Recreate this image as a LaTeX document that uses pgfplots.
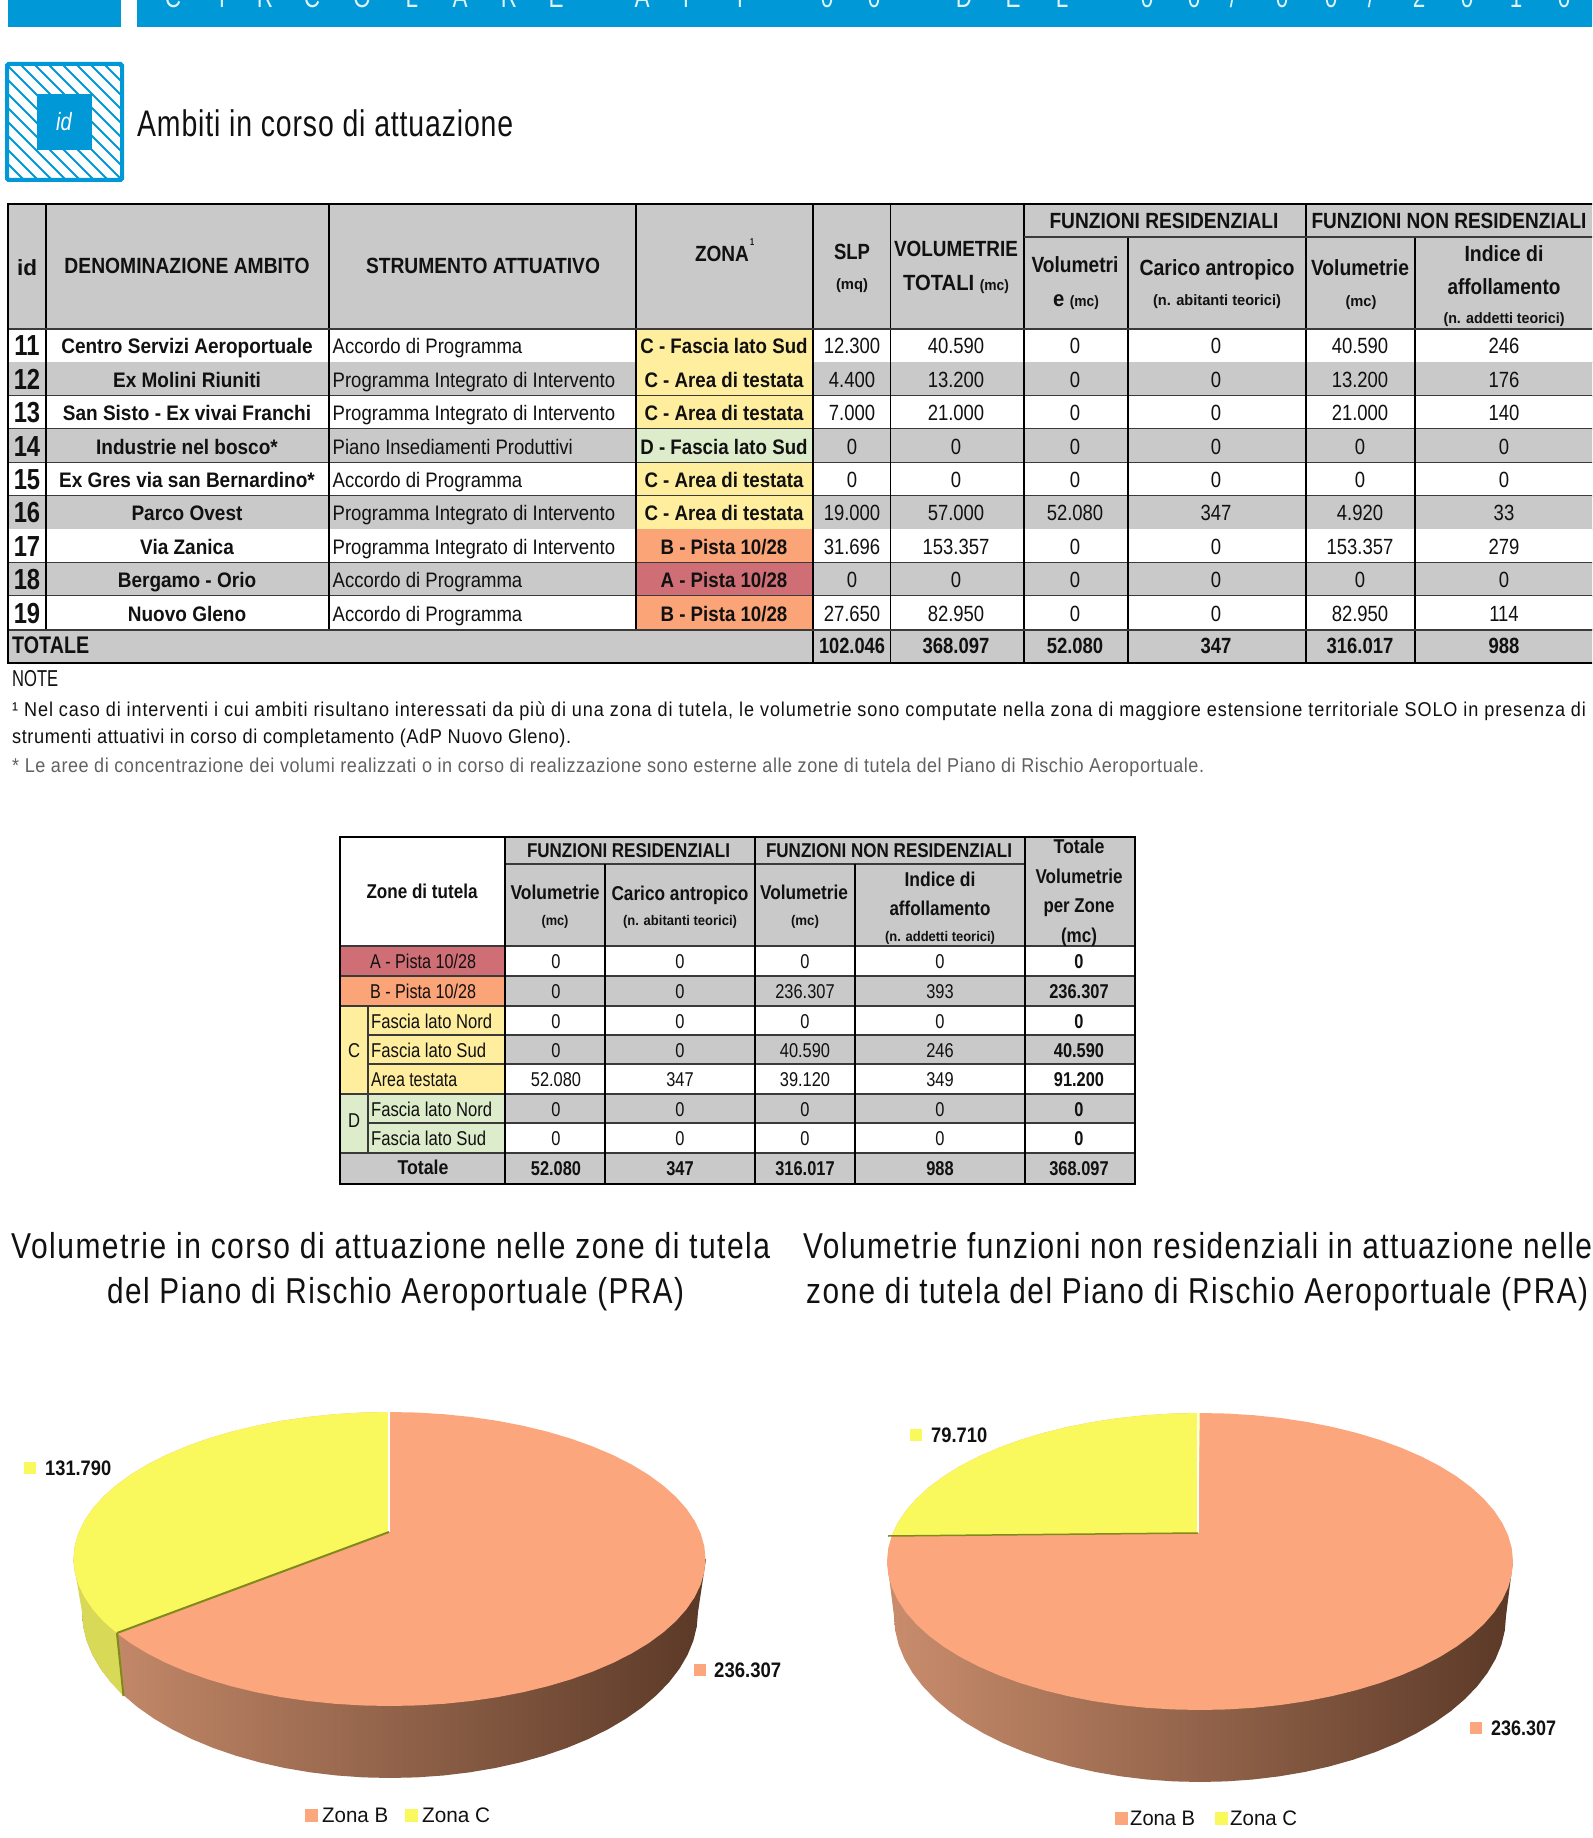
\documentclass[border=0pt]{standalone}
\usepackage{pgfplots}
\pgfplotsset{compat=1.18}
\usepackage{pgfplotstable}
\usepackage{graphicx}
\usepackage{fontspec}
\setmainfont{Liberation Sans}
\definecolor{blu}{HTML}{0098D6}
\definecolor{hg}{HTML}{C9C9C9}
\definecolor{zoneA}{HTML}{CF6F75}
\definecolor{zoneB}{HTML}{FAA478}
\definecolor{zoneC}{HTML}{FFEE9E}
\definecolor{zoneD}{HTML}{DDECCB}
\definecolor{pieO}{HTML}{FBA67C}
\definecolor{pieY}{HTML}{F9F95E}
\definecolor{rimY}{HTML}{D9D958}
\definecolor{seam}{HTML}{7F8A1A}
\definecolor{rimL}{HTML}{C88C6C}
\definecolor{rimM}{HTML}{84573F}
\definecolor{rimR}{HTML}{5C3A28}
\definecolor{ink}{HTML}{111111}
\definecolor{rule}{HTML}{3A3A3A}
% anchor, x, y, size, width, text: set to an exact width, keeping the height
\newcommand{\fit}[6]{\node[anchor=#1,inner sep=0pt] at (#2,#3) {\resizebox{#5pt}{\height}{\fontsize{#4}{#4}\selectfont\color{ink}#6}};}
% anchor, x, y, size, xscale, text
\newcommand{\tx}[6]{\node[anchor=#1,inner sep=0pt] at (#2,#3) {\scalebox{#5}[1]{\fontsize{#4}{#4}\selectfont\color{ink}#6}};}
\newcommand{\spaced}[1]{\addfontfeature{LetterSpace=#1}}
% unit circle outline
\pgfplotstableread{
u v
1 0
.9962 .0872
.9848 .1736
.9659 .2588
.9397 .3420
.9063 .4226
.8660 .5
.8192 .5736
.7660 .6428
.7071 .7071
.6428 .7660
.5736 .8192
.5 .8660
.4226 .9063
.3420 .9397
.2588 .9659
.1736 .9848
.0872 .9962
0 1
-.0872 .9962
-.1736 .9848
-.2588 .9659
-.3420 .9397
-.4226 .9063
-.5 .8660
-.5736 .8192
-.6428 .7660
-.7071 .7071
-.7660 .6428
-.8192 .5736
-.8660 .5
-.9063 .4226
-.9397 .3420
-.9659 .2588
-.9848 .1736
-.9962 .0872
-1 0
-.9962 -.0872
-.9848 -.1736
-.9659 -.2588
-.9397 -.3420
-.9063 -.4226
-.8660 -.5
-.8192 -.5736
-.7660 -.6428
-.7071 -.7071
-.6428 -.7660
-.5736 -.8192
-.5 -.8660
-.4226 -.9063
-.3420 -.9397
-.2588 -.9659
-.1736 -.9848
-.0872 -.9962
0 -1
.0872 -.9962
.1736 -.9848
.2588 -.9659
.3420 -.9397
.4226 -.9063
.5 -.8660
.5736 -.8192
.6428 -.7660
.7071 -.7071
.7660 -.6428
.8192 -.5736
.8660 -.5
.9063 -.4226
.9397 -.3420
.9659 -.2588
.9848 -.1736
.9962 -.0872
1 0
}\unitcircle
% Zona C slice, left pie (131.790 of 368.097)
\pgfplotstableread{
u v
-.003 .184
0 1
-.0872 .9962
-.1736 .9848
-.2588 .9659
-.3420 .9397
-.4226 .9063
-.5 .8660
-.5736 .8192
-.6428 .7660
-.7071 .7071
-.7660 .6428
-.8192 .5736
-.8660 .5
-.9063 .4226
-.9397 .3420
-.9659 .2588
-.9848 .1736
-.9962 .0872
-1 0
-.9962 -.0872
-.9848 -.1736
-.9659 -.2588
-.9397 -.3420
-.9063 -.4226
-.8620 -.5069
}\sliceleft
% Zona C slice, right pie (79.710 of 316.017)
\pgfplotstableread{
u v
-.006 .192
0 1
-.0872 .9962
-.1736 .9848
-.2588 .9659
-.3420 .9397
-.4226 .9063
-.5 .8660
-.5736 .8192
-.6428 .7660
-.7071 .7071
-.7660 .6428
-.8192 .5736
-.8660 .5
-.9063 .4226
-.9397 .3420
-.9659 .2588
-.9848 .1736
}\sliceright
\begin{document}
\begin{tikzpicture}
\path[use as bounding box,clip] (0pt,0pt) rectangle (1592pt,1838pt);
\fill[white] (0pt,0pt) rectangle (1592pt,1838pt);
\begin{scope}[x=1pt,y=-1pt,shift={(0pt,1838pt)}]
% ---------- top band
\fill[blu] (8,-2) rectangle (121,27);
\fill[blu] (137,-2) rectangle (1594,27);
\foreach \px/\ch in {173/C,222/I,265/R,312/C,362/O,412/L,460/A,509/R,556/E,642/A,686/T,740/I,827/0,874/0,964/D,1013/E,1062/L,1147/0,1194/0,1233/{/},1282/0,1331/0,1371/{/},1419/2,1467/0,1516/1,1564/0}{
  \node[anchor=base,inner sep=0pt,text=white!88!blu] at (\px,7.5) {\scalebox{.75}[1]{\fontsize{30}{30}\selectfont\ch}};
}
% ---------- icon
\begin{scope}
\clip (7,64) rectangle (122,180);
\foreach \k in {-14,...,14}{
  \draw[blu,line width=2pt] ({64+14*\k-70},52) -- ({64+14*\k+70},192);
}
\end{scope}
\draw[blu,line width=4pt,rounded corners=1.5pt] (7,64) rectangle (122,180);
\fill[blu] (37,94) rectangle (92,150);
\node[anchor=center,inner sep=0pt,text=white] at (64,122) {\scalebox{.8}[1]{\fontsize{25}{25}\selectfont\itshape id}};
\fit{base west}{137}{137}{37}{376}{\spaced{3}Ambiti in corso di attuazione}
% ---------- table 1
\fill[hg] (8,203) rectangle (1594,329);
\foreach \i/\rbg/\rid/\rname/\rst/\zc/\zn/\vA/\vB/\vC/\vD/\vE/\vF in {
0/white/11/Centro Servizi Aeroportuale/Accordo di Programma/zoneC/C - Fascia lato Sud/12.300/40.590/0/0/40.590/246,
1/hg/12/Ex Molini Riuniti/Programma Integrato di Intervento/zoneC/C - Area di testata/4.400/13.200/0/0/13.200/176,
2/white/13/San Sisto - Ex vivai Franchi/Programma Integrato di Intervento/zoneC/C - Area di testata/7.000/21.000/0/0/21.000/140,
3/hg/14/Industrie nel bosco*/Piano Insediamenti Produttivi/zoneD/D - Fascia lato Sud/0/0/0/0/0/0,
4/white/15/Ex Gres via san Bernardino*/Accordo di Programma/zoneC/C - Area di testata/0/0/0/0/0/0,
5/hg/16/Parco Ovest/Programma Integrato di Intervento/zoneC/C - Area di testata/19.000/57.000/52.080/347/4.920/33,
6/white/17/Via Zanica/Programma Integrato di Intervento/zoneB/{B - Pista 10/28}/31.696/153.357/0/0/153.357/279,
7/hg/18/Bergamo - Orio/Accordo di Programma/zoneA/{A - Pista 10/28}/0/0/0/0/0/0,
8/white/19/Nuovo Gleno/Accordo di Programma/zoneB/{B - Pista 10/28}/27.650/82.950/0/0/82.950/114}{
  \pgfmathsetmacro\yt{329+33.4*\i}
  \pgfmathsetmacro\yb{\yt+33.4}
  \pgfmathsetmacro\yl{\yt+25}
  \pgfmathsetmacro\yid{\yt+27}
  \fill[\rbg] (8,\yt) rectangle (1594,\yb);
  \fill[\zc] (636,\yt) rectangle (813,\yb);
  \draw[rule,line width=1.5pt] (8,\yb) -- (1594,\yb);
  \tx{base}{27}{\yid}{29}{.82}{\bfseries\rid}
  \tx{base}{187}{\yl}{21}{.905}{\bfseries\rname}
  \tx{base west}{332.5}{\yl}{21}{.883}{\rst}
  \tx{base}{724}{\yl}{21}{.89}{\bfseries\zn}
  \tx{base}{852}{\yl}{22}{.84}{\vA}
  \tx{base}{956}{\yl}{22}{.84}{\vB}
  \tx{base}{1075}{\yl}{22}{.84}{\vC}
  \tx{base}{1216}{\yl}{22}{.84}{\vD}
  \tx{base}{1360}{\yl}{22}{.84}{\vE}
  \tx{base}{1504}{\yl}{22}{.84}{\vF}
}
\fill[hg] (8,630) rectangle (1594,663);
\foreach \xx in {46,329,636}{\draw[black,line width=1.5pt] (\xx,203) -- (\xx,630);}
\foreach \xx in {813,890.5,1024,1306}{\draw[black,line width=1.5pt] (\xx,203) -- (\xx,663);}
\foreach \xx in {1128,1415}{\draw[black,line width=1.5pt] (\xx,237) -- (\xx,663);}
\draw[rule,line width=1.5pt] (1024,237) -- (1594,237);
\draw[rule,line width=2pt] (8,329) -- (1594,329);
\draw[rule,line width=1.5pt] (8,630) -- (1594,630);
\draw[black,line width=2.6pt] (1594,204) -- (8,204) -- (8,663) -- (1594,663);
\fit{base}{27}{276}{22}{20}{\bfseries id}
\fit{base}{187}{274}{22}{245}{\bfseries DENOMINAZIONE AMBITO}
\fit{base}{483}{274}{22}{234}{\bfseries STRUMENTO ATTUATIVO}
\fit{base}{722}{262}{22}{54}{\bfseries ZONA}
\fit{base}{752}{246}{10}{4}{\bfseries 1}
\fit{base}{852}{260}{22}{36}{\bfseries SLP}
\fit{base}{852}{290}{15}{32}{\bfseries (mq)}
\fit{base}{956}{257}{22}{124}{\bfseries VOLUMETRIE}
\fit{base}{956}{291}{22}{106}{\bfseries TOTALI {\fontsize{15}{15}\selectfont (mc)}}
\fit{base}{1164}{229}{22}{229}{\bfseries FUNZIONI RESIDENZIALI}
\fit{base}{1449}{229}{22}{275}{\bfseries FUNZIONI NON RESIDENZIALI}
\fit{base}{1075}{273}{22}{87}{\bfseries Volumetri}
\fit{base}{1076}{307}{22}{46}{\bfseries e {\fontsize{15}{15}\selectfont (mc)}}
\fit{base}{1217}{276}{22}{155}{\bfseries Carico antropico}
\fit{base}{1217}{306}{15}{128}{\bfseries (n. abitanti teorici)}
\fit{base}{1360}{276}{22}{98}{\bfseries Volumetrie}
\fit{base}{1361}{307}{15}{31}{\bfseries (mc)}
\fit{base}{1504}{262}{22}{79}{\bfseries Indice di}
\fit{base}{1504}{295}{22}{113}{\bfseries affollamento}
\fit{base}{1504}{324}{15}{121}{\bfseries (n. addetti teorici)}
\fit{base west}{12}{654}{24}{77}{\bfseries TOTALE}
\tx{base}{852}{654}{22}{.83}{\bfseries 102.046}
\tx{base}{956}{654}{22}{.84}{\bfseries 368.097}
\tx{base}{1075}{654}{22}{.84}{\bfseries 52.080}
\tx{base}{1216}{654}{22}{.84}{\bfseries 347}
\tx{base}{1360}{654}{22}{.84}{\bfseries 316.017}
\tx{base}{1504}{654}{22}{.84}{\bfseries 988}
% ---------- notes
\fit{base west}{12}{687}{23}{46}{NOTE}
\fit{base west}{12}{717}{20}{1574}{\spaced{5}¹ Nel caso di interventi i cui ambiti risultano interessati da più di una zona di tutela, le volumetrie sono computate nella zona di maggiore estensione territoriale SOLO in presenza di}
\fit{base west}{12}{744}{20}{559}{\spaced{3}strumenti attuativi in corso di completamento (AdP Nuovo Gleno).}
\fit{base west}{12}{773}{20}{1192}{\spaced{3}\color{black!62}* Le aree di concentrazione dei volumi realizzati o in corso di realizzazione sono esterne alle zone di tutela del Piano di Rischio Aeroportuale.}
% ---------- table 2
\fill[hg] (505,837) rectangle (1135,946);
\foreach \yt/\yb/\rbg/\vA/\vB/\vC/\vD/\vE in {
946/976/white/0/0/0/0/0,
976/1006/hg/0/0/236.307/393/236.307,
1006/1035/white/0/0/0/0/0,
1035/1064/hg/0/0/40.590/246/40.590,
1064/1094/white/52.080/347/39.120/349/91.200,
1094/1123/hg/0/0/0/0/0,
1123/1153/white/0/0/0/0/0}{
  \fill[\rbg] (505,\yt) rectangle (1135,\yb);
  \pgfmathsetmacro\yl{\yt+22.5}
  \tx{base}{556}{\yl}{20}{.82}{\vA}
  \tx{base}{680}{\yl}{20}{.82}{\vB}
  \tx{base}{805}{\yl}{20}{.82}{\vC}
  \tx{base}{940}{\yl}{20}{.82}{\vD}
  \tx{base}{1079}{\yl}{20}{.82}{\bfseries\vE}
}
\fill[hg] (340,1153) rectangle (1135,1184);
\fill[zoneA] (340,946) rectangle (505,976);
\fill[zoneB] (340,976) rectangle (505,1006);
\fill[zoneC] (340,1006) rectangle (505,1094);
\fill[zoneD] (340,1094) rectangle (505,1153);
\draw[rule,line width=1.5pt] (340,946) -- (1135,946);
\draw[rule,line width=1.5pt] (340,976) -- (1135,976);
\draw[rule,line width=1.5pt] (340,1006) -- (1135,1006);
\draw[rule,line width=1.5pt] (368,1035) -- (1135,1035);
\draw[rule,line width=1.5pt] (368,1064) -- (1135,1064);
\draw[rule,line width=1.5pt] (340,1094) -- (1135,1094);
\draw[rule,line width=1.5pt] (368,1123) -- (1135,1123);
\draw[rule,line width=1.5pt] (340,1153) -- (1135,1153);
\draw[rule,line width=1.5pt] (505,864) -- (1025,864);
\draw[rule,line width=1.5pt] (368,1006) -- (368,1153);
\foreach \xx in {505,755,1025}{\draw[black,line width=1.5pt] (\xx,837) -- (\xx,1184);}
\foreach \xx in {605,855}{\draw[black,line width=1.5pt] (\xx,864) -- (\xx,1184);}
\draw[black,line width=2.6pt] (340,837) rectangle (1135,1184);
\fit{base}{628.5}{858}{20}{203}{\bfseries FUNZIONI RESIDENZIALI}
\fit{base}{889}{858}{20}{246}{\bfseries FUNZIONI NON RESIDENZIALI}
\fit{base}{1079}{854}{20}{51}{\bfseries Totale}
\fit{base}{1079}{884}{20}{87}{\bfseries Volumetrie}
\fit{base}{1079}{913}{20}{71}{\bfseries per Zone}
\fit{base}{1079}{943}{20}{36}{\bfseries (mc)}
\fit{base}{422}{899}{20}{111}{\bfseries Zone di tutela}
\fit{base}{555}{900}{20}{89}{\bfseries Volumetrie}
\fit{base}{555}{926}{14}{27}{\bfseries (mc)}
\fit{base}{680}{901}{20}{137}{\bfseries Carico antropico}
\fit{base}{680}{926}{14}{114}{\bfseries (n. abitanti teorici)}
\fit{base}{804}{900}{20}{88}{\bfseries Volumetrie}
\fit{base}{805}{926}{14}{28}{\bfseries (mc)}
\fit{base}{940}{887}{20}{71}{\bfseries Indice di}
\fit{base}{940}{916}{20}{101}{\bfseries affollamento}
\fit{base}{940}{942}{14}{110}{\bfseries (n. addetti teorici)}
\fit{base}{423}{968.5}{20}{106}{A - Pista 10/28}
\fit{base}{423}{998.5}{20}{106}{B - Pista 10/28}
\fit{base}{354}{1058}{20}{12}{C}
\fit{base}{354}{1128}{20}{12}{D}
\fit{base west}{371}{1028.5}{20}{121}{Fascia lato Nord}
\fit{base west}{371}{1057.5}{20}{115}{Fascia lato Sud}
\fit{base west}{371}{1086.5}{20}{86}{Area testata}
\fit{base west}{371}{1116.5}{20}{121}{Fascia lato Nord}
\fit{base west}{371}{1145.5}{20}{115}{Fascia lato Sud}
\fit{base}{423}{1175}{20}{51}{\bfseries Totale}
\tx{base}{556}{1175.5}{20}{.82}{\bfseries 52.080}
\tx{base}{680}{1175.5}{20}{.82}{\bfseries 347}
\tx{base}{805}{1175.5}{20}{.82}{\bfseries 316.017}
\tx{base}{940}{1175.5}{20}{.82}{\bfseries 988}
\tx{base}{1079}{1175.5}{20}{.82}{\bfseries 368.097}
\end{scope}
% ---------- pies
\begin{axis}[at={(0pt,0pt)},anchor=south west,scale only axis,width=1592pt,height=638pt,
  xmin=0,xmax=1592,ymin=1200,ymax=1838,y dir=reverse,hide axis,clip=false]
% left pie
\addplot[draw=none,left color=rimL,middle color=rimM,right color=rimR] table[x expr=390+308*\thisrow{u},y expr=1612-166*\thisrow{v}] {\unitcircle};
\addplot[draw=none,fill=rimR] coordinates {(706,1559)(698,1612)(600,1612)(600,1559)};
\addplot[draw=none,fill=rimY] coordinates {(73,1559)(82,1612)(83.2,1626.5)(86.7,1640.8)(92.5,1655)(100.6,1668.8)(110.9,1682.2)(123.3,1696)(116,1630)};
\addplot[draw=none,fill=pieO] table[x expr=389.5+316*\thisrow{u},y expr=1559-147*\thisrow{v}] {\unitcircle};
\addplot[draw=none,fill=pieY] table[x expr=389.5+316*\thisrow{u},y expr=1559-147*\thisrow{v}] {\sliceleft};
\addplot[white,line width=2.5pt] coordinates {(389,1412)(389,1532)};
\addplot[seam,line width=2pt] coordinates {(389,1532)(117,1633)};
\addplot[seam,line width=2pt] coordinates {(117,1633)(123.5,1696)};
\addplot[only marks,mark=square*,mark size=5.5pt,color=pieY] coordinates {(30,1468)};
\addplot[only marks,mark=square*,mark size=5.5pt,color=pieO] coordinates {(700,1670)};
\addplot[only marks,mark=square*,mark size=6pt,color=pieO] coordinates {(311,1815)};
\addplot[only marks,mark=square*,mark size=6pt,color=pieY] coordinates {(411.5,1815)};
\fit{base west}{45}{1475}{21}{66}{\bfseries 131.790}
\fit{base west}{714}{1677}{21}{67}{\bfseries 236.307}
\fit{base west}{322}{1822}{21}{66}{Zona B}
\fit{base west}{422}{1822}{21}{68}{Zona C}
\fit{base west}{11}{1258}{36}{759}{\spaced{5}Volumetrie in corso di attuazione nelle zone di tutela}
\fit{base west}{107}{1303}{36}{577}{\spaced{5}del Piano di Rischio Aeroportuale (PRA)}
% right pie
\addplot[draw=none,left color=rimL,middle color=rimM,right color=rimR] table[x expr=1200+306*\thisrow{u},y expr=1616-166*\thisrow{v}] {\unitcircle};
\addplot[draw=none,fill=rimL] coordinates {(887,1561)(894,1616)(1000,1616)(1000,1561)};
\addplot[draw=none,fill=rimR] coordinates {(1513,1561)(1506,1616)(1400,1616)(1400,1561)};
\addplot[draw=none,fill=pieO] table[x expr=1200+313*\thisrow{u},y expr=1561.5-148.5*\thisrow{v}] {\unitcircle};
\addplot[draw=none,fill=pieY] table[x expr=1200+313*\thisrow{u},y expr=1561.5-148.5*\thisrow{v}] {\sliceright};
\addplot[white,line width=2.5pt] coordinates {(1198,1413)(1198,1533)};
\addplot[seam,line width=1.5pt] coordinates {(1198,1533)(888,1536)};
\addplot[only marks,mark=square*,mark size=5.5pt,color=pieY] coordinates {(916,1435)};
\addplot[only marks,mark=square*,mark size=5.5pt,color=pieO] coordinates {(1475.5,1728)};
\addplot[only marks,mark=square*,mark size=6pt,color=pieO] coordinates {(1121.5,1818)};
\addplot[only marks,mark=square*,mark size=6pt,color=pieY] coordinates {(1221.5,1818)};
\fit{base west}{931}{1442}{21}{56}{\bfseries 79.710}
\fit{base west}{1491}{1735}{21}{65}{\bfseries 236.307}
\fit{base west}{1130}{1825}{21}{65}{Zona B}
\fit{base west}{1230}{1825}{21}{67}{Zona C}
\fit{base west}{803}{1258}{36}{789}{\spaced{5}Volumetrie funzioni non residenziali in attuazione nelle}
\fit{base west}{806}{1303}{36}{782}{\spaced{5}zone di tutela del Piano di Rischio Aeroportuale (PRA)}
\end{axis}
\end{tikzpicture}
\end{document}
